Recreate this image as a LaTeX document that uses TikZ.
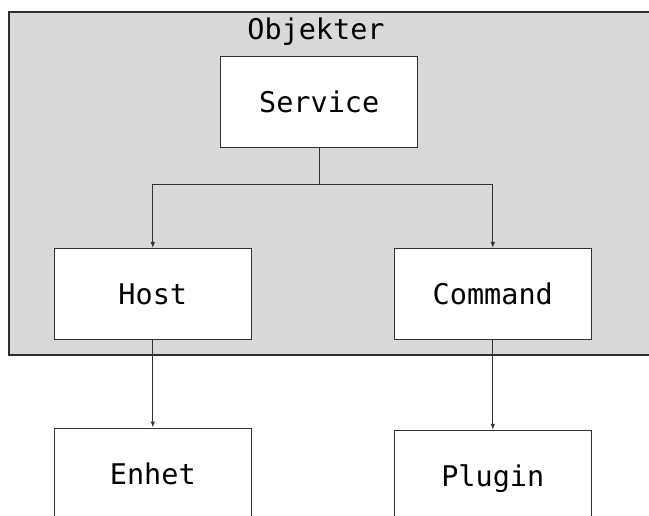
\documentclass[tikz,border=0pt]{standalone}
\usepackage{fontspec}
\setmonofont{DejaVu Sans Mono}
\usetikzlibrary{arrows.meta}
\definecolor{groupfill}{RGB}{217,217,217}
\definecolor{edgecol}{RGB}{51,51,51}
\tikzset{
  box/.style={draw=edgecol, line width=1pt, fill=white, minimum width=197pt, minimum height=91pt,
    inner sep=0pt, font=\fontsize{28.5}{30}\ttfamily, text height=21pt, text depth=0pt},
  conn/.style={draw=edgecol, line width=1pt, -{Latex[length=6pt,width=4.5pt]}},
}
\begin{document}
\begin{tikzpicture}[x=1pt,y=-1pt]
\useasboundingbox (0,0) rectangle (649,516);
\clip (0,0) rectangle (649,516);
\fill[white] (0,0) rectangle (649,516);
\draw[draw=edgecol!90!black, line width=1.3pt, fill=groupfill] (9,12) rectangle (670,355);
\node[anchor=base, font=\fontsize{28.5}{30}\ttfamily, inner sep=0pt] (title) at (316,39.3) {Objekter};
\node[box] (service) at (319.2,101.8) {Service};
\node[box] (host) at (152.8,294) {Host};
\node[box] (command) at (492.8,294) {Command};
\node[box] (enhet) at (152.8,473.5) {Enhet};
\node[box] (plugin) at (492.8,475.8) {Plugin};
\coordinate (j) at (319.2,184.3);
\draw[draw=edgecol, line width=1pt] (service.south) -- (j);
\draw[conn] (j) -| (host.north);
\draw[conn] (j) -| (command.north);
\draw[conn] (host.south) -- (enhet.north);
\draw[conn] (command.south) -- (plugin.north);
\end{tikzpicture}
\end{document}
